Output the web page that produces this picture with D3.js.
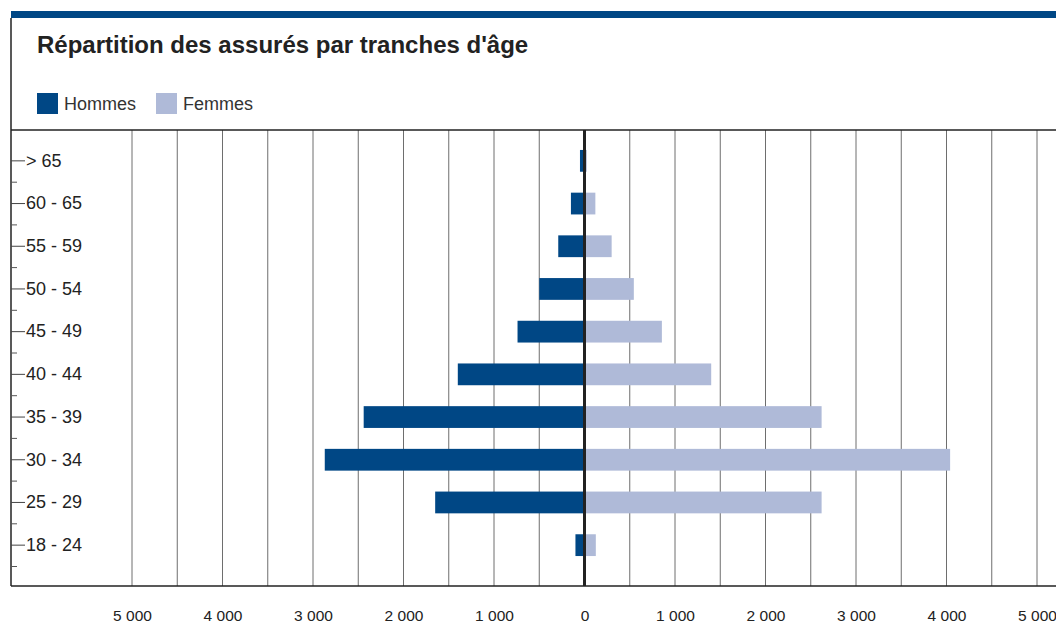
<!DOCTYPE html>
<html lang="fr">
<head>
<meta charset="utf-8">
<script src="https://d3js.org/d3.v7.min.js"></script>
<style>
  body { margin: 0; background: #fff; }
  text { font-family: "Liberation Sans", Arial, sans-serif; }
</style>
</head>
<body>
<script>
// tranches d'age, du haut vers le bas
var ages = ["> 65", "60 - 65", "55 - 59", "50 - 54", "45 - 49", "40 - 44", "35 - 39", "30 - 34", "25 - 29", "18 - 24"];
var hommes = [50, 150, 290, 500, 740, 1400, 2440, 2870, 1650, 100];
var femmes = [25, 120, 300, 545, 855, 1400, 2620, 4040, 2620, 125];
var xTicks = [-5000, -4000, -3000, -2000, -1000, 0, 1000, 2000, 3000, 4000, 5000];
var gridTicks = d3.range(-5000, 5001, 500);

var W = 1056, H = 625;
var plotLeft = 11, plotTop = 130, plotBottom = 586;
var cHommes = "#004785", cFemmes = "#afbad8";

var svg = d3.select("body").append("svg")
  .attr("width", W).attr("height", H);

var x = d3.scaleLinear().domain([-5000, 5000]).range([132, 1037]);
var y = d3.scaleBand().domain(ages).range([139.5, 566.5]);
var barH = y.bandwidth() * 0.51;

// cadre
svg.append("rect").attr("x", plotLeft).attr("y", 11).attr("width", W - plotLeft).attr("height", 7).attr("fill", "#004785");
svg.append("line").attr("x1", plotLeft).attr("x2", plotLeft).attr("y1", 18).attr("y2", plotBottom).attr("stroke", "#222").attr("stroke-width", 1.5);

svg.append("text").attr("x", 37).attr("y", 53)
  .attr("font-size", 24).attr("font-weight", "bold").attr("fill", "#222")
  .text("Répartition des assurés par tranches d'âge");

// legende
var leg = [["Hommes", cHommes, 37], ["Femmes", cFemmes, 156]];
leg.forEach(function(l){
  svg.append("rect").attr("x", l[2]).attr("y", 93).attr("width", 21).attr("height", 21).attr("fill", l[1]);
  svg.append("text").attr("x", l[2] + 27).attr("y", 110).attr("font-size", 18).attr("fill", "#333").text(l[0]);
});

// grille
svg.append("g").selectAll("line").data(gridTicks).enter().append("line")
  .attr("x1", function(d){ return x(d); }).attr("x2", function(d){ return x(d); })
  .attr("y1", plotTop).attr("y2", plotBottom)
  .attr("stroke", "#6e6e6e").attr("stroke-width", 1);

// barres
svg.append("g").selectAll("rect").data(ages).enter().append("rect")
  .attr("x", function(d, i){ return x(-hommes[i]); })
  .attr("y", function(d){ return y(d) + (y.bandwidth() - barH) / 2; })
  .attr("width", function(d, i){ return x(0) - x(-hommes[i]); })
  .attr("height", barH)
  .attr("fill", cHommes);

svg.append("g").selectAll("rect").data(ages).enter().append("rect")
  .attr("x", x(0))
  .attr("y", function(d){ return y(d) + (y.bandwidth() - barH) / 2; })
  .attr("width", function(d, i){ return x(femmes[i]) - x(0); })
  .attr("height", barH)
  .attr("fill", cFemmes);

// lignes haut / bas / zero
svg.append("line").attr("x1", plotLeft).attr("x2", W).attr("y1", plotTop).attr("y2", plotTop).attr("stroke", "#222").attr("stroke-width", 1.5);
svg.append("line").attr("x1", plotLeft).attr("x2", W).attr("y1", plotBottom).attr("y2", plotBottom).attr("stroke", "#222").attr("stroke-width", 1.5);
svg.append("line").attr("x1", x(0)).attr("x2", x(0)).attr("y1", plotTop).attr("y2", plotBottom).attr("stroke", "#222").attr("stroke-width", 3);

// axe des ages
var yAxis = svg.append("g").attr("transform", "translate(" + plotLeft + ",0)")
  .call(d3.axisRight(y).tickSize(14).tickSizeOuter(0).tickPadding(1));
yAxis.select(".domain").remove();
yAxis.selectAll(".tick line").attr("stroke", "#444");
yAxis.selectAll("text").attr("font-size", 18).attr("fill", "#222").attr("font-family", "Liberation Sans, Arial, sans-serif");

// petites graduations entre les tranches
svg.append("g").selectAll("line").data(ages).enter().append("line")
  .attr("x1", plotLeft).attr("x2", plotLeft + 6)
  .attr("y1", function(d){ return y(d) + y.bandwidth(); })
  .attr("y2", function(d){ return y(d) + y.bandwidth(); })
  .attr("stroke", "#555");

// axe des effectifs
var fmt = function(d){ return d3.format(",")(Math.abs(d)).replace(/,/g, " "); };
var xAxis = svg.append("g").attr("transform", "translate(0," + plotBottom + ")")
  .call(d3.axisBottom(x).tickValues(xTicks).tickFormat(fmt).tickSize(0).tickPadding(24));
xAxis.select(".domain").remove();
xAxis.selectAll("text").attr("font-size", 15.5).attr("fill", "#222").attr("font-family", "Liberation Sans, Arial, sans-serif");
</script>
</body>
</html>
